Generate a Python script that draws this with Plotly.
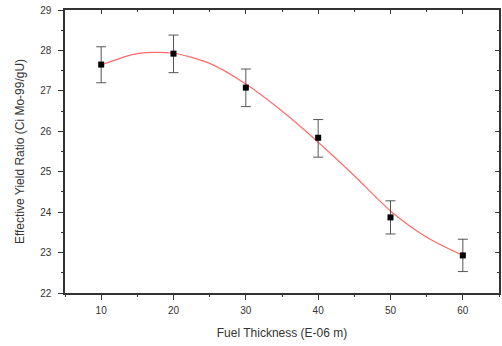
import plotly.graph_objects as go

thickness = [10, 20, 30, 40, 50, 60]
yield_ratio = [27.65, 27.92, 27.08, 25.84, 23.87, 22.93]
err_plus = [0.44, 0.46, 0.46, 0.45, 0.41, 0.40]
err_minus = [0.45, 0.47, 0.47, 0.48, 0.41, 0.40]

fit_x = [10, 15, 20, 25, 30, 35, 40, 45, 50, 55, 60]
fit_y = [27.64, 27.92, 27.93, 27.68, 27.17, 26.50, 25.73, 24.90, 24.03, 23.38, 22.93]

x_range = [5, 65]
y_range = [22, 29]
x_ticks = [10, 20, 30, 40, 50, 60]
y_ticks = [22, 23, 24, 25, 26, 27, 28, 29]

font_family = "Liberation Sans, Arial, sans-serif"

fig = go.Figure()
fig.add_trace(go.Scatter(
    x=fit_x, y=fit_y, mode="lines",
    line=dict(color="#ff6b6b", width=1.2, shape="spline", smoothing=0.8),
    hoverinfo="skip", showlegend=False))
fig.add_trace(go.Scatter(
    x=thickness, y=yield_ratio, mode="markers",
    marker=dict(symbol="square", size=6, color="black"),
    error_y=dict(type="data", symmetric=False, array=err_plus, arrayminus=err_minus,
                 color="#555555", thickness=1, width=5),
    showlegend=False))
fig.add_trace(go.Scatter(x=x_range, y=y_range, xaxis="x2", yaxis="y2",
                         mode="markers", marker=dict(opacity=0), hoverinfo="skip",
                         showlegend=False))

tickfont = dict(family=font_family, size=10, color="#333333")
fig.update_layout(
    width=502, height=346,
    margin=dict(l=65, r=3, t=10, b=53, autoexpand=False),
    paper_bgcolor="white", plot_bgcolor="white",
    xaxis=dict(range=x_range, tickvals=x_ticks, ticks="outside", ticklen=5,
               tickwidth=1, tickcolor="#333", showline=True, linecolor="#333",
               linewidth=1.5, showgrid=False, zeroline=False, tickfont=tickfont,
               automargin=False, ticklabelstandoff=2,
               minor=dict(dtick=5, tick0=5, ticks="outside", ticklen=2, tickcolor="#333"),
               title=dict(text="Fuel Thickness (E-06 m)", standoff=14,
                          font=dict(family=font_family, size=12, color="#333"))),
    yaxis=dict(range=y_range, tickvals=y_ticks, ticks="outside", ticklen=5,
               tickwidth=1, tickcolor="#333", showline=True, linecolor="#333",
               linewidth=1.5, showgrid=False, zeroline=False, tickfont=tickfont,
               automargin=False, ticklabelstandoff=5,
               minor=dict(dtick=0.5, tick0=22, ticks="outside", ticklen=2, tickcolor="#333"),
               title=dict(text="Effective Yield Ratio (Ci Mo-99/gU)", standoff=13,
                          font=dict(family=font_family, size=12, color="#333"))),
    xaxis2=dict(range=x_range, overlaying="x", side="top", tickvals=x_ticks,
                ticks="inside", ticklen=4, tickcolor="#333", showticklabels=False,
                showline=True, linecolor="#333", linewidth=1.5, showgrid=False,
                zeroline=False, automargin=False,
                minor=dict(dtick=5, tick0=5, ticks="inside", ticklen=2, tickcolor="#333")),
    yaxis2=dict(range=y_range, overlaying="y", side="right", tickvals=y_ticks,
                ticks="inside", ticklen=4, tickcolor="#333", showticklabels=False,
                showline=True, linecolor="#333", linewidth=1.5, showgrid=False,
                zeroline=False, automargin=False,
                minor=dict(dtick=0.5, tick0=22, ticks="inside", ticklen=2, tickcolor="#333")),
)

fig.write_html("out.html", config={"displayModeBar": False},
               post_script="document.body.style.margin='0';")
